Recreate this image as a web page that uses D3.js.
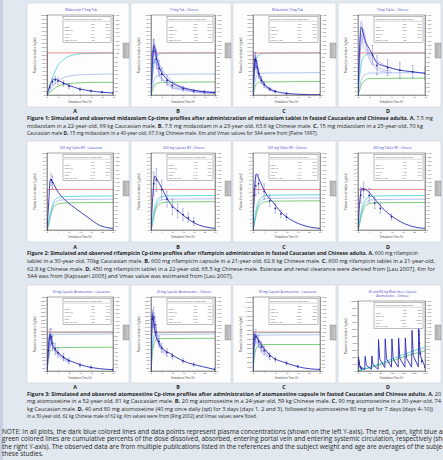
<!DOCTYPE html>
<html><head><meta charset="utf-8">
<script src="https://cdn.jsdelivr.net/npm/d3@7"></script>
<style>html,body{margin:0;padding:0;background:#e1e8ef;overflow:hidden}</style>
</head><body><svg id="c" width="443" height="460"></svg>
<script>
// ---------------- DATA ----------------
// [time h, value]; obs: [time h, mean, sd]; cumulative % lines on right axis
const panelLetters = ["A", "B", "C", "D"];

// Figure 1: midazolam
const mdzA_title = ["Midazolam 7.5mg Tab"];
const mdzA_plasma = [[0,0],[0.5,22],[1,36],[1.5,40],[2,37],[3,30],[4,24],[5,19],[6,15],[8,10],[10,7],[12,5]];
const mdzA_obs = [[0.5,20,5],[1,33,8],[1.5,38,9],[2,35,8],[3,29,7],[4,22,6],[6,14,4],[8,10,3],[10,7,2],[12,5,2]];
const mdzA_cyan = [[0,0],[0.5,22],[1,42],[1.5,58],[2,70],[3,84],[4,92],[5,96],[6,98],[8,99],[12,100]];
const mdzA_lblue = [[0,0],[0.5,10],[1,20],[1.5,28],[2,34],[3,41],[4,45],[6,48],[8,49],[12,50]];
const mdzA_green = [[0,0],[0.5,6],[1,12],[1.5,17],[2,21],[3,25],[4,27],[6,29],[8,30],[12,30]];

const mdzB_title = ["7.5mg Tab - Chinese"];
const mdzB_plasma = [[0,0],[0.25,38],[0.5,62],[0.75,58],[1,48],[1.5,36],[2,28],[3,20],[4,15],[6,9],[8,6],[10,4],[12,3]];
const mdzB_subj1 = [[0,0],[0.25,30],[0.5,70],[0.75,52],[1,45],[1.5,30],[2,22],[3,15],[4,10],[6,7],[8,4],[12,2]];
const mdzB_subj2 = [[0,0],[0.25,55],[0.5,48],[0.75,64],[1,40],[1.5,34],[2,30],[3,18],[4,12],[6,8],[8,5],[12,3]];
const mdzB_subj3 = [[0,0],[0.25,20],[0.5,40],[0.75,45],[1,38],[1.5,26],[2,20],[3,14],[4,9],[6,6],[8,4],[12,2]];
const mdzB_subj4 = [[0,0],[0.25,42],[0.5,58],[0.75,50],[1,55],[1.5,40],[2,33],[3,24],[4,17],[6,10],[8,6],[12,4]];
const mdzB_obs = [[0.5,55,15],[1,45,12],[1.5,33,10],[2,26,8],[3,18,6],[4,12,4],[6,8,3],[8,5,2],[10,4,2],[12,3,1]];
const mdzB_cyan = [[0,0],[0.25,40],[0.5,70],[0.75,85],[1,92],[1.5,97],[2,99],[12,100]];
const mdzB_lblue = [[0,0],[0.25,18],[0.5,32],[0.75,40],[1,45],[1.5,48],[2,49],[12,50]];
const mdzB_green = [[0,0],[0.25,10],[0.5,18],[0.75,24],[1,27],[1.5,29],[2,30],[12,31]];

const mdzC_title = ["Midazolam 15mg Tab"];
const mdzC_plasma = [[0,0],[0.5,70],[0.75,92],[1,88],[1.5,72],[2,56],[3,38],[4,27],[6,15],[8,9],[10,6],[12,4],[16,2],[20,1],[24,0.5]];
const mdzC_subj1 = [[0,0],[0.5,85],[0.75,100],[1,80],[1.5,60],[2,48],[3,32],[4,22],[6,12],[8,7]];
const mdzC_subj2 = [[0,0],[0.5,50],[0.75,70],[1,95],[1.5,78],[2,62],[3,42],[4,30],[6,17],[8,10]];
const mdzC_subj3 = [[0,0],[0.5,62],[0.75,84],[1,72],[1.5,66],[2,50],[3,35],[4,25],[6,14],[8,8]];
const mdzC_obs = [[0.5,65,15],[0.75,88,18],[1,86,18],[1.5,70,14],[2,54,12],[3,37,9],[4,26,7],[6,15,5],[8,9,3],[12,4,2],[24,1,0.5]];
const mdzC_cyan = [[0,0],[0.5,55],[1,80],[1.5,90],[2,95],[3,98],[4,99],[24,100]];
const mdzC_lblue = [[0,0],[0.5,25],[1,40],[1.5,47],[2,50],[3,52],[24,53]];
const mdzC_green = [[0,0],[0.5,14],[1,24],[1.5,28],[2,30],[3,31],[24,32]];

const mdzD_title = ["15mg Tablet - Chinese"];
const mdzD_plasma = [[0,0],[0.3,60],[0.6,85],[0.9,78],[1.3,68],[2,58],[2.6,50],[3.4,40],[5.3,35],[7.5,31],[9.8,29],[12,27]];
const mdzD_subj1 = [[0,0],[0.3,70],[0.6,92],[1,72],[1.5,60],[2,52],[3,45],[4,40],[6,34]];
const mdzD_subj2 = [[0,0],[0.3,45],[0.6,66],[1,82],[1.5,62],[2,50],[3,38],[4,33],[6,30]];
const mdzD_subj3 = [[0,0],[0.3,35],[0.6,75],[1,60],[1.5,55],[2,45],[3,35],[4,30],[6,28]];
const mdzD_obs = [[2.6,50,12],[3.4,37,12],[5.3,34,10],[7.5,31,10],[9.8,29,8],[12,27,8]];
const mdzD_cyan = [[0,0],[0.3,45],[0.6,75],[1,90],[1.5,96],[2,98],[12,100]];
const mdzD_lblue = [[0,0],[0.3,20],[0.6,35],[1,45],[1.5,50],[2,52],[12,53]];
const mdzD_green = [[0,0],[0.3,12],[0.6,24],[1,32],[1.5,37],[2,39],[12,40]];

// Figure 2: rifampicin
const rifA_title = ["600 mg Tablet Rif - Caucasian"];
const rifA_plasma = [[0,0],[0.7,8],[1.1,12.8],[1.4,13.2],[1.9,12.6],[4.1,9.8],[7.2,7.4],[10.8,5.4],[14.6,3.4],[19.2,1.2],[24,0.4]];
const rifA_obs = [[1.5,13,1.5],[2,12.4,1.6]];
const rifA_cyan = [[0,0],[0.5,15],[1,35],[1.5,50],[2,62],[3,75],[4,80],[5,82],[8,83],[24,84]];
const rifA_lblue = [[0,0],[0.5,12],[1,30],[1.5,44],[2,55],[3,67],[4,72],[5,74],[8,75],[24,76]];
const rifA_green = [[0,0],[0.5,10],[1,26],[1.5,40],[2,50],[3,60],[4,64],[5,66],[8,67],[24,68]];

const rifB_title = ["600 mg Capsule Rif - Chinese"];
const rifB_plasma = [[0,0],[0.7,9],[1.4,14],[2.2,13.2],[4.1,10.8],[6.7,7.4],[11.5,4.2],[16.3,1.8],[24,0.4]];
const rifB_obs = [[1,12,3],[2,13,3],[4,10.5,2.5],[6,8,2],[8,6,2],[10,5,1.8],[12,4,1.5],[14,3.2,1.2],[16,2.2,1]];
const rifB_cyan = [[0,0],[0.5,20],[1,42],[1.5,58],[2,68],[3,78],[4,82],[6,84],[24,85]];
const rifB_lblue = [[0,0],[0.5,16],[1,36],[1.5,50],[2,60],[3,70],[4,74],[6,76],[24,77]];
const rifB_green = [[0,0],[0.5,13],[1,30],[1.5,44],[2,54],[3,63],[4,67],[6,69],[24,70]];

const rifC_title = ["600 mg Tablet Rif - Chinese"];
const rifC_plasma = [[0,0],[0.5,10],[1.2,14.6],[1.9,13.6],[5,9],[7,7.4],[9.8,4.8],[14.2,2.4],[19,1],[24,0.4]];
const rifC_obs = [[0.5,9,2],[1,11.5,2.5],[2,12,2.5],[4,10,2],[6,7.6,1.5],[8,5.6,1.2],[10,4.2,1],[12,3.4,0.8]];
const rifC_cyan = [[0,0],[0.5,22],[1,45],[1.5,60],[2,70],[3,80],[4,84],[6,86],[24,87]];
const rifC_lblue = [[0,0],[0.5,18],[1,38],[1.5,52],[2,62],[3,72],[4,76],[6,78],[24,79]];
const rifC_green = [[0,0],[0.5,15],[1,32],[1.5,46],[2,56],[3,65],[4,69],[6,71],[24,72]];

const rifD_title = ["450 mg Tablet Rif - Chinese"];
const rifD_plasma = [[0,0],[0.7,8],[1.4,10.8],[2.6,10.6],[5.8,8.2],[8.6,5.8],[12.5,3.4],[18.2,1.2],[24,0.4]];
const rifD_obs = [[1,9,2],[2,10.4,2],[4,9,1.8],[6,7,1.5],[8,5.6,1.2],[12,3.4,0.8]];
const rifD_cyan = [[0,0],[0.5,18],[1,40],[1.5,56],[2,66],[3,77],[4,82],[6,84],[24,85]];
const rifD_lblue = [[0,0],[0.5,15],[1,34],[1.5,48],[2,58],[3,68],[4,73],[6,75],[24,76]];
const rifD_green = [[0,0],[0.5,12],[1,28],[1.5,42],[2,52],[3,61],[4,65],[6,67],[24,68]];

// Figure 3: atomoxetine
const atxA_title = ["20 mg Capsule Atomoxetine - Caucasian"];
const atxA_plasma = [[0,0],[0.5,120],[1.1,200],[1.8,150],[3,115],[4.8,90],[7,65],[9.6,48],[14.4,24],[19,13],[24,7]];
const atxA_subj1 = [[0,0],[0.5,150],[1,210],[1.5,170],[2,140],[3,110],[4,92],[6,70],[8,50]];
const atxA_subj2 = [[0,0],[0.5,90],[1,140],[1.5,190],[2,160],[3,125],[4,100],[6,72],[8,54]];
const atxA_subj3 = [[0,0],[0.5,60],[1,120],[1.5,150],[2,135],[3,105],[4,85],[6,62],[8,45]];
const atxA_obs = [[0.5,110,40],[1,175,50],[1.5,185,45],[2,150,40],[3,120,30],[4,100,25],[6,75,20],[8,55,15],[12,32,10],[16,20,8],[24,8,4]];
const atxA_cyan = [[0,0],[0.5,60],[1,85],[1.5,93],[2,97],[3,99],[24,100]];
const atxA_lblue = [[0,0],[0.5,50],[1,78],[1.5,88],[2,92],[3,94],[24,95]];
const atxA_green = [[0,0],[0.5,30],[1,48],[1.5,55],[2,58],[3,60],[24,61]];

const atxB_title = ["20 mg Capsule Atomoxetine - Chinese"];
const atxB_plasma = [[0,0],[0.5,304],[1.4,220],[2.9,152],[4.5,120],[7,96],[11.8,56],[19.2,24],[24,8]];
const atxB_subj1 = [[0,0],[0.5,280],[1,320],[1.5,250],[2,200],[3,150],[4,120],[6,95]];
const atxB_subj2 = [[0,0],[0.5,230],[1,290],[1.5,270],[2,220],[3,165],[4,130],[6,100]];
const atxB_subj3 = [[0,0],[0.5,320],[1,260],[1.5,210],[2,180],[3,140],[4,110],[6,85]];
const atxB_obs = [[0.5,280,50],[1,290,55],[1.5,250,45],[2,210,40],[3,160,30],[4,125,25],[6,100,20],[8,80,15],[12,55,12],[16,35,10],[24,10,5]];
const atxB_cyan = [[0,0],[0.5,65],[1,88],[1.5,95],[2,98],[24,100]];
const atxB_lblue = [[0,0],[0.5,58],[1,82],[1.5,90],[2,93],[24,95]];
const atxB_green = [[0,0],[0.5,42],[1,66],[1.5,76],[2,80],[3,83],[24,84]];

const atxC_title = ["90 mg Capsule Atomoxetine - Caucasian"];
const atxC_plasma = [[0,0],[0.5,800],[1.9,672],[4.1,480],[6.5,320],[11.8,176],[17,80],[24,32]];
const atxC_subj1 = [[0,0],[0.5,780],[1,760],[2,640],[3,520],[4,440],[6,330]];
const atxC_subj2 = [[0,0],[0.5,600],[1,720],[2,700],[3,580],[4,470],[6,350]];
const atxC_subj3 = [[0,0],[0.5,700],[1,650],[2,560],[3,430],[4,360],[6,280]];
const atxC_subj4 = [[0,0],[0.5,520],[1,800],[2,600],[3,500],[4,410],[6,300]];
const atxC_obs = [[0.5,700,150],[1,740,160],[2,640,130],[3,520,110],[4,440,90],[6,320,70],[8,250,50],[12,170,40],[16,100,25],[24,35,10]];
const atxC_cyan = [[0,0],[0.5,70],[1,90],[1.5,96],[2,98],[24,99]];
const atxC_lblue = [[0,0],[0.5,62],[1,84],[1.5,90],[2,92],[24,93]];
const atxC_green = [[0,0],[0.5,35],[1,55],[1.5,63],[2,66],[3,68],[24,68]];

const atxD_title = ["40 and 80 mg Multi-dose Capsule", "Atomoxetine - Chinese"];
const atxD_plasma = [[0,0],[1.5,200],[6,70],[24,20],[25.5,210],[30,80],[48,25],[49.5,215],[54,85],[72,25],[73.5,450],[78,170],[96,50],[97.5,460],[102,175],[120,55],[121.5,460],[126,175],[144,55],[145.5,470],[150,180],[168,55],[169.5,470],[174,180],[192,55],[193.5,580],[198,220],[216,60],[217.5,600],[222,230],[240,60]];
const atxD_obs = [[1,120,40],[2,150,35],[4,110,25],[8,60,15],[12,35,10],[217,560,90],[218,520,80],[220,400,70],[224,250,50],[228,140,30],[240,55,15]];
const atxD_cyan = [[0,0],[24,6],[48,12],[72,18],[96,25],[120,32],[144,39],[168,46],[192,53],[216,59],[240,64]];
const atxD_green = [[0,0],[24,5],[48,10],[72,15],[96,21],[120,27],[144,33],[168,39],[192,45],[216,50],[240,55]];

// red line: dose dissolved (%)
const red12 = [[0,0],[0.05,100],[12,100]];
const red24 = [[0,0],[0.05,100],[24,100]];

// captions
const fig1Lines = [
 "**Figure 1: Simulated and observed midazolam Cp-time profiles after administration of midazolam tablet in fasted Caucasian and Chinese adults. A.** 7.5 mg",
 "midazolam in a 22-year-old, 69 kg Caucasian male. **B.** 7.5 mg midazolam in a 23-year-old, 63.6 kg Chinese male. **C.** 15 mg midazolam in a 25-year-old, 70 kg",
 "Caucasian male **D.** 15 mg midazolam in a 40-year-old, 67.3 kg Chinese male. Km and Vmax values for 3A4 were from [Paine 1997]."
];
const fig2Lines = [
 "**Figure 2: Simulated and observed rifampicin Cp-time profiles after rifampicin administration in fasted Caucasian and Chinese adults. A.** 600 mg rifampicin",
 "tablet in a 30-year-old, 70kg Caucasian male. **B.** 600 mg rifampicin capsule in a 21-year-old, 62.8 kg Chinese male. **C.** 600 mg rifampicin tablet in a 21-year-old,",
 "62.8 kg Chinese male.  **D.** 450 mg rifampicin tablet in a 22-year-old, 65.5 kg Chinese male. Esterase and renal clearance were derived from [Lau 2007]. Km for",
 "3A4 was from [Kajosaari 2005] and Vmax value was estimated from [Lau 2007]."
];
const fig3Lines = [
 "**Figure 3: Simulated and observed atomoxetine Cp-time profiles after administration of atomoxetine capsule in fasted Caucasian and Chinese adults. A.** 20",
 "mg atomoxetine in a 52-year-old, 81 kg Caucasian male. **B.** 20 mg atomoxetine in a 24-year-old, 59 kg Chinese male. **C.** 90 mg atomoxetine  in a 30-year-old, 74",
 "kg Caucasian male. **D.** 40 and 80 mg atomoxetine (40 mg once daily (qd) for 3 days (days 1, 2 and 3), followed by atomoxetine 80 mg qd for 7 days (days 4–10))",
 "in a 30-year-old, 62 kg Chinese male of 62 kg. Km values were from [Ring 2002] and Vmax values were fitted."
];
const noteLines = [
 "NOTE: In all plots, the dark blue colored lines and data points represent plasma concentrations (shown on the left Y-axis). The red, cyan, light blue and",
 "green colored lines are cumulative percents of the dose dissolved, absorbed, entering portal vein and entering systemic circulation, respectively (shown on",
 "the right Y-axis). The observed data are from multiple publications listed in the references and the subject weight and age are averages of the subjects in",
 "these studies."
];
const noteVisiblePrefix = "NOTE: In all plots, the dark blue colored lines and data points represent plasma concentrations (shown on the left Y-axis). The red, cyan, light blue a";

// ---------------- DRAWING ----------------
const FONT = "'Open Sans', 'Liberation Sans', sans-serif";
const R_MAX = 190;
const svg = d3.select('#c').attr('font-family', FONT);
svg.append('rect').attr('width', 443).attr('height', 460).attr('fill', '#e1e8ef');
svg.append('rect').attr('width', 3).attr('height', 460).attr('fill', '#c8cfe0');

const colX = [[27,102],[131,100],[233,103],[338,103]];
const rows = [{y:3,h:104},{y:141,h:101},{y:285,h:98}];

const panels = [
 {row:0,col:0,id:'m1',title:mdzA_title,xMax:12,xStep:2,yMax:200,yStep:10,unit:'ng/mL',plasma:mdzA_plasma,obs:mdzA_obs,subj:[],red:red12,cyan:mdzA_cyan,lblue:mdzA_lblue,green:mdzA_green},
 {row:0,col:1,id:'m2',title:mdzB_title,xMax:12,xStep:2,yMax:100,yStep:5,unit:'ng/mL',plasma:mdzB_plasma,obs:mdzB_obs,subj:[mdzB_subj1,mdzB_subj2,mdzB_subj3,mdzB_subj4],red:red12,cyan:mdzB_cyan,lblue:mdzB_lblue,green:mdzB_green},
 {row:0,col:2,id:'m3',title:mdzC_title,xMax:24,xStep:4,yMax:200,yStep:10,unit:'ng/mL',plasma:mdzC_plasma,obs:mdzC_obs,subj:[mdzC_subj1,mdzC_subj2,mdzC_subj3],red:red24,cyan:mdzC_cyan,lblue:mdzC_lblue,green:mdzC_green},
 {row:0,col:3,id:'m4',title:mdzD_title,xMax:12,xStep:2,yMax:100,yStep:5,unit:'ng/mL',plasma:mdzD_plasma,obs:mdzD_obs,subj:[mdzD_subj1,mdzD_subj2,mdzD_subj3],red:red12,cyan:mdzD_cyan,lblue:mdzD_lblue,green:mdzD_green},
 {row:1,col:0,id:'r1',title:rifA_title,xMax:24,xStep:4,yMax:20,yStep:1,unit:'µg/mL',plasma:rifA_plasma,obs:rifA_obs,subj:[],red:red24,cyan:rifA_cyan,lblue:rifA_lblue,green:rifA_green},
 {row:1,col:1,id:'r2',title:rifB_title,xMax:24,xStep:4,yMax:20,yStep:1,unit:'µg/mL',plasma:rifB_plasma,obs:rifB_obs,subj:[],red:red24,cyan:rifB_cyan,lblue:rifB_lblue,green:rifB_green},
 {row:1,col:2,id:'r3',title:rifC_title,xMax:24,xStep:4,yMax:20,yStep:1,unit:'µg/mL',plasma:rifC_plasma,obs:rifC_obs,subj:[],red:red24,cyan:rifC_cyan,lblue:rifC_lblue,green:rifC_green},
 {row:1,col:3,id:'r4',title:rifD_title,xMax:24,xStep:4,yMax:20,yStep:1,unit:'µg/mL',plasma:rifD_plasma,obs:rifD_obs,subj:[],red:red24,cyan:rifD_cyan,lblue:rifD_lblue,green:rifD_green},
 {row:2,col:0,id:'a1',title:atxA_title,xMax:24,xStep:4,yMax:400,yStep:20,unit:'ng/mL',plasma:atxA_plasma,obs:atxA_obs,subj:[atxA_subj1,atxA_subj2,atxA_subj3],red:red24,cyan:atxA_cyan,lblue:atxA_lblue,green:atxA_green},
 {row:2,col:1,id:'a2',title:atxB_title,xMax:24,xStep:4,yMax:400,yStep:20,unit:'ng/mL',plasma:atxB_plasma,obs:atxB_obs,subj:[atxB_subj1,atxB_subj2,atxB_subj3],red:red24,cyan:atxB_cyan,lblue:atxB_lblue,green:atxB_green},
 {row:2,col:2,id:'a3',title:atxC_title,xMax:24,xStep:4,yMax:1600,yStep:100,unit:'ng/mL',plasma:atxC_plasma,obs:atxC_obs,subj:[atxC_subj1,atxC_subj2,atxC_subj3,atxC_subj4],red:red24,cyan:atxC_cyan,lblue:atxC_lblue,green:atxC_green},
 {row:2,col:3,id:'a4',title:atxD_title,xMax:240,xStep:40,yMax:1000,yStep:100,unit:'ng/mL',plasma:atxD_plasma,obs:atxD_obs,subj:[],red:null,cyan:atxD_cyan,lblue:null,green:atxD_green,spiky:true}
];

const fmt = v => v >= 100 ? d3.format('.0f')(v) : v >= 10 ? d3.format('.1f')(v) : d3.format('.2f')(v);

function styleAxis(sel) {
  sel.attr('font-size', null).attr('font-family', null);
  sel.selectAll('text').attr('font-size', 2.5).attr('fill', '#444');
  sel.selectAll('.tick line').attr('stroke', '#555').attr('stroke-width', 0.3);
  sel.select('.domain').attr('stroke', '#444').attr('stroke-width', 0.4);
}

function drawPanel(cfg) {
  const x = colX[cfg.col][0], w = colX[cfg.col][1];
  const y = rows[cfg.row].y, h = rows[cfg.row].h;
  const g = svg.append('g').attr('transform', `translate(${x},${y})`);
  g.append('rect').attr('width', w).attr('height', h).attr('fill', '#fdfdfd').attr('stroke', '#cdd5dd').attr('stroke-width', 0.6);
  const L = 20, R = w - 16, T = cfg.title.length > 1 ? 16 : 12, B = h - 12;
  const xs = d3.scaleLinear().domain([0, cfg.xMax]).range([L, R]);
  const ys = d3.scaleLinear().domain([0, cfg.yMax]).range([B, T]);
  const rs = d3.scaleLinear().domain([0, R_MAX]).range([B, T]);

  cfg.title.forEach((t, i) => g.append('text').attr('x', (L + R) / 2 + 1).attr('y', 8 + i * 3.8)
    .attr('text-anchor', 'middle').attr('font-size', 3.1).attr('fill', '#4848d0').text(t));

  const clipId = 'clip-' + cfg.id;
  g.append('clipPath').attr('id', clipId).append('rect').attr('x', L).attr('y', T).attr('width', R - L).attr('height', B - T);
  const plot = g.append('g').attr('clip-path', `url(#${clipId})`);

  const lineR = d3.line().x(d => xs(d[0])).y(d => rs(d[1])).curve(d3.curveMonotoneX);
  const lineY = d3.line().x(d => xs(d[0])).y(d => ys(d[1])).curve(cfg.spiky ? d3.curveLinear : d3.curveMonotoneX);

  [[cfg.green, '#5cc25c'], [cfg.lblue, '#a3b6ee'], [cfg.cyan, '#3fd0d4'], [cfg.red, '#ea6d6d']].forEach(([data, col]) => {
    if (data) plot.append('path').datum(data).attr('d', lineR).attr('fill', 'none').attr('stroke', col).attr('stroke-width', 0.8);
  });
  cfg.subj.forEach(s => plot.append('path').datum(s).attr('d', lineY).attr('fill', 'none')
    .attr('stroke', '#8d8df2').attr('stroke-width', 0.6).attr('opacity', 0.9));
  plot.append('path').datum(cfg.plasma).attr('d', lineY).attr('fill', 'none').attr('stroke', '#2c2cb8').attr('stroke-width', 0.9);

  const og = plot.append('g');
  og.selectAll('line.eb').data(cfg.obs).join('line').attr('class', 'eb')
    .attr('x1', d => xs(d[0])).attr('x2', d => xs(d[0]))
    .attr('y1', d => ys(Math.max(0, d[1] - d[2]))).attr('y2', d => ys(d[1] + d[2]))
    .attr('stroke', '#4040c0').attr('stroke-width', 0.35);
  ['lo', 'hi'].forEach(k => og.selectAll('line.' + k).data(cfg.obs).join('line').attr('class', k)
    .attr('x1', d => xs(d[0]) - 0.8).attr('x2', d => xs(d[0]) + 0.8)
    .attr('y1', d => ys(k === 'lo' ? Math.max(0, d[1] - d[2]) : d[1] + d[2]))
    .attr('y2', d => ys(k === 'lo' ? Math.max(0, d[1] - d[2]) : d[1] + d[2]))
    .attr('stroke', '#4040c0').attr('stroke-width', 0.35));
  og.selectAll('circle').data(cfg.obs).join('circle').attr('cx', d => xs(d[0])).attr('cy', d => ys(d[1]))
    .attr('r', 0.85).attr('fill', '#1d1d8e');

  // axes
  g.append('g').attr('transform', `translate(0,${B})`)
    .call(d3.axisBottom(xs).tickValues(d3.range(0, cfg.xMax + 1e-9, cfg.xStep)).tickSize(1.2).tickPadding(0.5)).call(styleAxis);
  g.append('g').attr('transform', `translate(${L},0)`)
    .call(d3.axisLeft(ys).tickValues(d3.range(0, cfg.yMax + 1e-9, cfg.yStep)).tickSize(1.2).tickPadding(0.6)).call(styleAxis);
  g.append('g').attr('transform', `translate(${R},0)`)
    .call(d3.axisRight(rs).tickValues(d3.range(0, R_MAX + 1e-9, 10)).tickSize(1.2).tickPadding(0.6)).call(styleAxis);
  g.append('rect').attr('x', L).attr('y', T).attr('width', R - L).attr('height', B - T)
    .attr('fill', 'none').attr('stroke', '#333').attr('stroke-width', 0.4);

  g.append('text').attr('x', (L + R) / 2).attr('y', B + 8.2).attr('text-anchor', 'middle')
    .attr('font-size', 2.6).attr('fill', '#333').text('Simulation Time (h)');
  g.append('text').attr('transform', `translate(8.5,${(T + B) / 2}) rotate(-90)`).attr('text-anchor', 'middle')
    .attr('font-size', 2.6).attr('fill', '#333').text(`Plasma Concentration (${cfg.unit})`);

  // statistics box (values derived from the arrays above)
  const simMax = d3.greatest(cfg.plasma, d => d[1]);
  const obsMax = d3.greatest(cfg.obs, d => d[1]);
  let auc = 0; for (let i = 1; i < cfg.plasma.length; i++) auc += (cfg.plasma[i][0] - cfg.plasma[i-1][0]) * (cfg.plasma[i][1] + cfg.plasma[i-1][1]) / 2;
  let aucO = 0; for (let i = 1; i < cfg.obs.length; i++) aucO += (cfg.obs[i][0] - cfg.obs[i-1][0]) * (cfg.obs[i][1] + cfg.obs[i-1][1]) / 2;
  const bx = L + 16, bw = R - 2 - bx, by = T + 1.2, bh = 26;
  const lb = g.append('g');
  lb.append('rect').attr('x', bx).attr('y', by).attr('width', bw).attr('height', bh).attr('fill', '#fff').attr('stroke', '#444').attr('stroke-width', 0.35);
  lb.append('text').attr('x', bx + 1.5).attr('y', by + 3.6).attr('font-size', 2.2).attr('fill', '#555').text('Observed vs. Simulated Plasma Conc.');
  lb.append('line').attr('x1', bx + 1).attr('x2', bx + bw - 1).attr('y1', by + 5).attr('y2', by + 5).attr('stroke', '#777').attr('stroke-width', 0.3);
  const rowsT = [['', 'Sim', 'Obs'], ['Cmax', fmt(simMax[1]), fmt(obsMax[1])], ['Tmax (h)', fmt(simMax[0]), fmt(obsMax[0])],
    ['AUC 0-t', fmt(auc), fmt(aucO)], ['Clast', fmt(cfg.plasma[cfg.plasma.length - 1][1]), fmt(cfg.obs[cfg.obs.length - 1][1])], ['Dose (%) abs', fmt(d3.max(cfg.cyan, d => d[1])), '']];
  rowsT.forEach((r, i) => {
    const yy = by + 8.6 + i * 3.3;
    lb.append('text').attr('x', bx + 1.5).attr('y', yy).attr('font-size', 2.1).attr('fill', '#555').text(r[0]);
    lb.append('text').attr('x', bx + bw * 0.66).attr('y', yy).attr('text-anchor', 'end').attr('font-size', 2.1).attr('fill', '#555').text(r[1]);
    lb.append('text').attr('x', bx + bw - 1.5).attr('y', yy).attr('text-anchor', 'end').attr('font-size', 2.1).attr('fill', '#555').text(r[2]);
  });

  // right axis title tab
  const tab = g.append('g').attr('transform', `translate(${w - 6},${40})`);
  tab.append('rect').attr('width', 6).attr('height', 15).attr('fill', '#b9b9b9').attr('stroke', '#8a8a8a').attr('stroke-width', 0.4);
  tab.append('text').attr('transform', 'translate(3.7,7.5) rotate(90)').attr('text-anchor', 'middle').attr('font-size', 1.9).attr('fill', '#fff').text('Cumulative %');

  // panel letter
  const letterX = [75, 178, 284, 388][cfg.col];
  const letterY = [113.3, 249, 389][cfg.row];
  svg.append('text').attr('x', letterX).attr('y', letterY).attr('text-anchor', 'middle').attr('font-size', 5.4)
    .attr('font-weight', 700).attr('fill', '#222').text(panelLetters[cfg.col]);
}

panels.forEach(drawPanel);

function caption(lines, x0, ends, baselines, size) {
  lines.forEach((ln, i) => {
    const t = svg.append('text').attr('x', x0).attr('y', baselines[i]).attr('font-size', size).attr('fill', '#262626');
    ln.split('**').forEach((seg, k) => { if (seg) t.append('tspan').attr('font-weight', k % 2 ? 700 : 400).text(seg); });
    t.attr('textLength', ends[i] - x0).attr('lengthAdjust', 'spacingAndGlyphs');
  });
}
caption(fig1Lines, 27, [433, 423, 318], [119.8, 127.5, 135.1], 5.2);
caption(fig2Lines, 27, [418, 435, 435, 233], [255.4, 263.0, 270.6, 278.2], 5.2);
caption(fig3Lines, 27, [441, 441, 433, 257], [395.6, 403.1, 410.6, 418.1], 5.2);

// NOTE paragraph (runs past the right edge as in the reference)
const probe = svg.append('text').attr('font-size', 10).text(noteVisiblePrefix);
const noteSize = 10 * 441 / probe.node().getComputedTextLength();
probe.remove();
noteLines.forEach((ln, i) => svg.append('text').attr('x', 2).attr('y', [433.8, 441.3, 448.8, 456.3][i])
  .attr('font-size', noteSize).attr('fill', '#262626').text(ln));
</script></body></html>
